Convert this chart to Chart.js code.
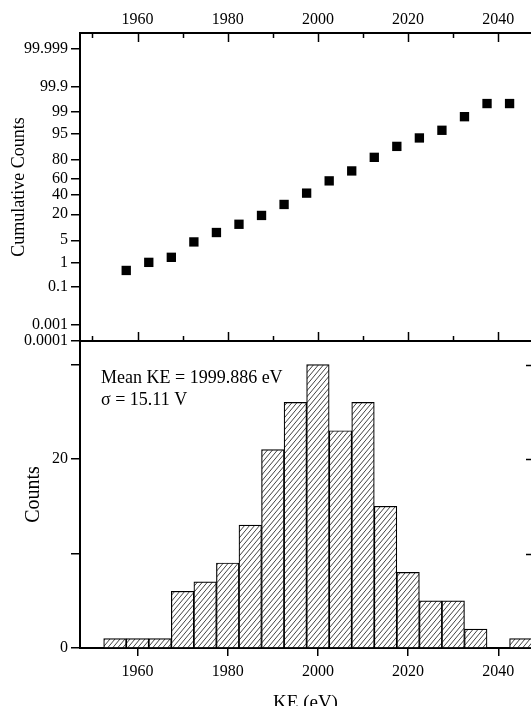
<!DOCTYPE html>
<html><head><meta charset="utf-8">
<script src="https://cdn.jsdelivr.net/npm/chart.js@4/dist/chart.umd.min.js"></script>
<style>
html,body{margin:0;padding:0;background:#fff;overflow:hidden;width:531px;height:706px;}
#top{position:absolute;left:0;top:0;width:531px;height:361px;}
#bot{position:absolute;left:0;top:321px;width:531px;height:402px;}
</style></head><body>
<div id="top"><canvas id="c1"></canvas></div>
<div id="bot"><canvas id="c2"></canvas></div>
<script>
// ---- data ----
const binCenters = [1955,1960,1965,1970,1975,1980,1985,1990,1995,2000,2005,2010,2015,2020,2025,2030,2035,2040,2045];
const binCounts  = [1,1,1,6,7,9,13,21,26,30,23,26,15,8,5,5,2,0,1];
const cumEnergy  = [1957.5,1962.5,1967.5,1972.5,1977.5,1982.5,1987.5,1992.5,1997.5,2002.5,2007.5,2012.5,2017.5,2022.5,2027.5,2032.5,2037.5,2042.5];
const cumPercent = [0.5,1,1.5,4.5,8,12.5,19,29.5,42.5,57.5,69,82,89.5,93.5,96,98.5,99.5,99.5];
const probTickValues = [0.0001,0.001,0.1,1,5,20,40,60,80,95,99,99.9,99.999];
const probTickLabels = ['0.0001','0.001','0.1','1','5','20','40','60','80','95','99','99.9','99.999'];
const xMajorTicks = [1960,1980,2000,2020,2040];
const xMinorTicks = [1950,1970,1990,2010,2030];
const countTicks = [0,10,20,30];
const countTickLabels = ['0','','20',''];
const annotationLines = ['Mean KE = 1999.886 eV','\u03C3 = 15.11 V'];
const xTitle = 'KE (eV)';
const yTopTitle = 'Cumulative Counts';
const yBotTitle = 'Counts';

// ---- normal-probability axis transform ----
function probit(p){
 const a=[-3.969683028665376e+01,2.209460984245205e+02,-2.759285104469687e+02,1.383577518672690e+02,-3.066479806614716e+01,2.506628277459239e+00];
 const b=[-5.447609879822406e+01,1.615858368580409e+02,-1.556989798598866e+02,6.680131188771972e+01,-1.328068155288572e+01];
 const c=[-7.784894002430293e-03,-3.223964580411365e-01,-2.400758296578587e+00,-2.549732539343734e+00,4.374664141464968e+00,2.938163982698783e+00];
 const d=[7.784695709041462e-03,3.224671290700398e-01,2.445134137142996e+00,3.754408661907416e+00];
 const pl=0.02425, ph=1-pl; let q,r;
 if(p<pl){q=Math.sqrt(-2*Math.log(p));return (((((c[0]*q+c[1])*q+c[2])*q+c[3])*q+c[4])*q+c[5])/((((d[0]*q+d[1])*q+d[2])*q+d[3])*q+1);}
 if(p<=ph){q=p-0.5;r=q*q;return (((((a[0]*r+a[1])*r+a[2])*r+a[3])*r+a[4])*r+a[5])*q/(((((b[0]*r+b[1])*r+b[2])*r+b[3])*r+b[4])*r+1);}
 q=Math.sqrt(-2*Math.log(1-p));return -(((((c[0]*q+c[1])*q+c[2])*q+c[3])*q+c[4])*q+c[5])/((((d[0]*q+d[1])*q+d[2])*q+d[3])*q+1);
}

const FONT = '"Liberation Serif","Times New Roman",serif';
const X_MIN = 1947.25, X_MAX = 2047.25;
const Z_LIM = probit(0.000001);

function makeHatch(){
  const w=5,h=6;
  const cv=document.createElement('canvas'); cv.width=w; cv.height=h;
  const g=cv.getContext('2d');
  g.fillStyle='#fff'; g.fillRect(0,0,w,h);
  g.strokeStyle='#222'; g.lineWidth=0.85;
  g.beginPath();
  for(let k=-1;k<=1;k++){ g.moveTo(k*w - w, 2*h); g.lineTo(k*w + 2*w, -h); }
  g.stroke();
  return g.createPattern(cv,'repeat');
}

// ---- top panel ----
const topDecor = {
  id:'topDecor',
  afterDraw(chart){
    const {ctx, chartArea:ca, scales:{x}} = chart;
    ctx.save();
    ctx.strokeStyle='#000'; ctx.lineWidth=1.5;
    const tick=(v,len)=>{
      const px=Math.round(x.getPixelForValue(v))+0.5;
      ctx.beginPath(); ctx.moveTo(px,ca.top); ctx.lineTo(px,ca.top+len); ctx.stroke();
      ctx.beginPath(); ctx.moveTo(px,ca.bottom); ctx.lineTo(px,ca.bottom-len); ctx.stroke();
    };
    xMajorTicks.forEach(v=>tick(v,9));
    xMinorTicks.forEach(v=>tick(v,5));
    ctx.lineWidth=2;
    ctx.beginPath(); ctx.moveTo(ca.left-1,ca.bottom); ctx.lineTo(ca.right,ca.bottom); ctx.stroke();
    ctx.restore();
  }
};

new Chart(document.getElementById('c1'),{
  type:'scatter',
  data:{datasets:[{
    data: cumEnergy.map((e,i)=>({x:e, y:probit(cumPercent[i]/100)})),
    pointStyle:'rect', pointRadius:6.6, backgroundColor:'#000', borderWidth:0
  }]},
  options:{
    responsive:true, maintainAspectRatio:false, animation:false, events:[],
    layout:{autoPadding:false, padding:{left:0,right:0,top:0,bottom:20}},
    plugins:{legend:{display:false},tooltip:{enabled:false}},
    scales:{
      x:{type:'linear', position:'top', min:X_MIN, max:X_MAX, offset:false,
         afterBuildTicks(s){ s.ticks = xMajorTicks.map(v=>({value:v})); },
         afterFit(s){ s.height = 33; },
         grid:{display:false, drawTicks:false},
         border:{display:true, color:'#000', width:2},
         ticks:{autoSkip:false, maxRotation:0, padding:4, color:'#000', font:{family:FONT,size:16},
                callback:(v)=>String(v)}
      },
      y:{type:'linear', position:'left', min:-Z_LIM, max:Z_LIM,
         afterBuildTicks(s){ s.ticks = probTickValues.map(p=>({value:probit(p/100)})); },
         afterFit(s){ s.width = 80; },
         grid:{display:true, drawOnChartArea:false, drawTicks:true, tickLength:9, color:'#000', lineWidth:1.5},
         border:{display:true, color:'#000', width:2},
         ticks:{autoSkip:false, padding:3, color:'#000', font:{family:FONT,size:16},
                callback:(v,i)=>probTickLabels[i]},
         title:{display:true, text:yTopTitle, color:'#000', font:{family:FONT,size:18}, padding:{top:8,bottom:0}}
      }
    }
  },
  plugins:[topDecor]
});

// ---- bottom panel ----
const botDecor = {
  id:'botDecor',
  afterDraw(chart){
    const {ctx, chartArea:ca, scales:{y}} = chart;
    ctx.save();
    ctx.strokeStyle='#000'; ctx.lineWidth=1.5;
    countTicks.slice(1).forEach(v=>{
      const py=Math.round(y.getPixelForValue(v))+0.5;
      ctx.beginPath(); ctx.moveTo(ca.right,py); ctx.lineTo(ca.right-5,py); ctx.stroke();
    });
    ctx.fillStyle='#000';
    ctx.font='18px '+FONT;
    ctx.textBaseline='alphabetic'; ctx.textAlign='left';
    ctx.fillText(annotationLines[0], ca.left+21, ca.top+42);
    ctx.fillText(annotationLines[1], ca.left+21, ca.top+64);
    ctx.restore();
  }
};

new Chart(document.getElementById('c2'),{
  type:'bar',
  data:{datasets:[{
    data: binCenters.map((c,i)=>({x:c, y:binCounts[i]})),
    backgroundColor: makeHatch(), borderColor:'#000', borderWidth:1.2,
    barPercentage:1, categoryPercentage:1
  }]},
  options:{
    responsive:true, maintainAspectRatio:false, animation:false, events:[],
    layout:{autoPadding:false, padding:{left:0,right:0,top:20,bottom:0}},
    plugins:{legend:{display:false},tooltip:{enabled:false}},
    scales:{
      x:{type:'linear', position:'bottom', min:X_MIN, max:X_MAX, offset:false,
         afterBuildTicks(s){ s.ticks = xMajorTicks.map(v=>({value:v})); },
         afterFit(s){ s.height = 75; },
         grid:{display:true, offset:false, drawOnChartArea:false, drawTicks:true, tickLength:8, color:'#000', lineWidth:1.5},
         border:{display:true, color:'#000', width:2},
         ticks:{autoSkip:false, maxRotation:0, padding:6, color:'#000', font:{family:FONT,size:16},
                callback:(v)=>String(v)},
         title:{display:true, text:xTitle, color:'#000', font:{family:FONT,size:19}, padding:{top:0,bottom:9}}
      },
      y:{type:'linear', position:'left', min:0, max:32.5,
         afterBuildTicks(s){ s.ticks = countTicks.map(v=>({value:v})); },
         afterFit(s){ s.width = 80; },
         grid:{display:true, drawOnChartArea:false, drawTicks:true, tickLength:9, color:'#000', lineWidth:1.5},
         border:{display:true, color:'#000', width:2},
         ticks:{autoSkip:false, padding:3, color:'#000', font:{family:FONT,size:16},
                callback:(v,i)=>countTickLabels[i]},
         title:{display:true, text:yBotTitle, color:'#000', font:{family:FONT,size:20}, padding:{top:22,bottom:0}}
      }
    }
  },
  plugins:[botDecor]
});
</script>
</body></html>
